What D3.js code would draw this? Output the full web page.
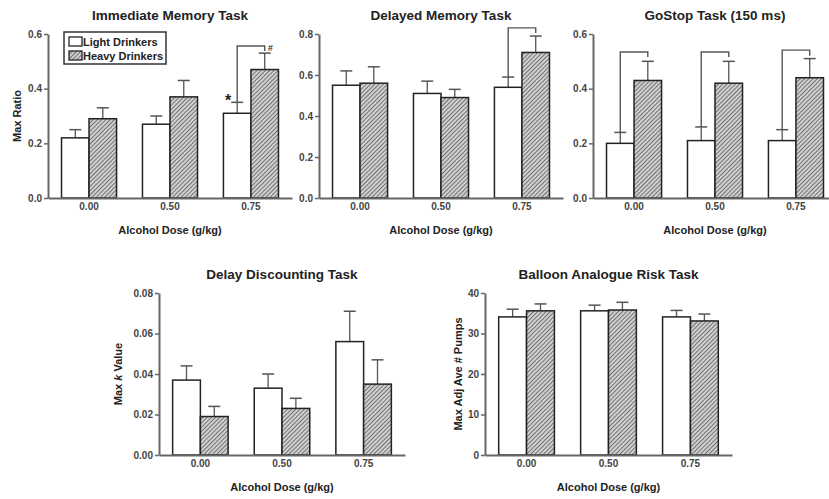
<!DOCTYPE html>
<html><head><meta charset="utf-8">
<script src="https://cdn.jsdelivr.net/npm/d3@7"></script>
<style>
body{margin:0;background:#fff}
text{font-family:"Liberation Sans",Arial,sans-serif;font-weight:bold}
</style>
</head><body><svg id="c" width="829" height="499"></svg>
<script>
// ---------- DATA ----------
const doses = ["0.00","0.50","0.75"];
const seriesNames = ["Light Drinkers","Heavy Drinkers"];

const immLight = [0.22,0.27,0.31], immLightErr = [0.03,0.03,0.04];
const immHeavy = [0.29,0.37,0.47], immHeavyErr = [0.04,0.06,0.06];
const immTicks = [0,0.2,0.4,0.6];
const immBrackets = [[2,0.556,0.538]];

const delLight = [0.55,0.51,0.54], delLightErr = [0.07,0.06,0.05];
const delHeavy = [0.56,0.49,0.71], delHeavyErr = [0.08,0.04,0.08];
const delTicks = [0,0.2,0.4,0.6,0.8];
const delBrackets = [[2,0.83,0.805]];

const goLight = [0.20,0.21,0.21], goLightErr = [0.04,0.05,0.04];
const goHeavy = [0.43,0.42,0.44], goHeavyErr = [0.07,0.08,0.07];
const goTicks = [0,0.2,0.4,0.6];
const goBrackets = [[0,0.534,0.516],[1,0.534,0.516],[2,0.541,0.52]];

const ddLight = [0.037,0.033,0.056], ddLightErr = [0.007,0.007,0.015];
const ddHeavy = [0.019,0.023,0.035], ddHeavyErr = [0.005,0.005,0.012];
const ddTicks = [0,0.02,0.04,0.06,0.08];

const bartLight = [34.1,35.6,34.1], bartLightErr = [1.9,1.4,1.6];
const bartHeavy = [35.6,35.8,33.1], bartHeavyErr = [1.7,1.9,1.7];
const bartTicks = [0,10,20,30,40];

// ---------- DRAW ----------
const svg = d3.select("#c");
const defs = svg.append("defs");
const pat = defs.append("pattern").attr("id","hatch").attr("patternUnits","userSpaceOnUse")
  .attr("width",3).attr("height",3).attr("patternTransform","rotate(45)");
pat.append("rect").attr("width",3).attr("height",3).attr("fill","#d0d0d0");
pat.append("line").attr("x1",0).attr("y1",0).attr("x2",0).attr("y2",3)
  .attr("stroke","#404040").attr("stroke-width",1.3);

const axisCol = "#666", barStroke = "#222", textCol = "#222", tickCol = "#444";

function panel(o){
  const g = svg.append("g");
  const x = d3.scaleBand().domain(doses).range([o.x0,o.x1]).paddingInner(0.32).paddingOuter(0.167);
  const xs = d3.scaleBand().domain([0,1]).range([0,x.bandwidth()]);
  const y = d3.scaleLinear().domain([0,o.ymax]).range([o.yb,o.yt]);

  const rows = [];
  doses.forEach((d,i)=>{
    rows.push({d,s:0,v:o.light[i],e:o.lightErr[i]});
    rows.push({d,s:1,v:o.heavy[i],e:o.heavyErr[i]});
  });
  rows.forEach(r=>{
    const cx = x(r.d)+xs(r.s)+xs.bandwidth()/2;
    g.append("line").attr("x1",cx).attr("x2",cx).attr("y1",y(r.v)).attr("y2",y(r.v+r.e))
      .attr("stroke","#555").attr("stroke-width",1.3);
    g.append("line").attr("x1",cx-6).attr("x2",cx+6).attr("y1",y(r.v+r.e)).attr("y2",y(r.v+r.e))
      .attr("stroke","#555").attr("stroke-width",1.5);
  });
  g.selectAll("rect.bar").data(rows).enter().append("rect").attr("class","bar")
    .attr("x",r=>x(r.d)+xs(r.s)).attr("width",xs.bandwidth())
    .attr("y",r=>y(r.v)).attr("height",r=>y(0)-y(r.v))
    .attr("fill",r=>r.s?"url(#hatch)":"#fff").attr("stroke",barStroke).attr("stroke-width",1.5);

  (o.brackets||[]).forEach(b=>{
    const d = doses[b[0]];
    const lx = x(d)+xs(0)+xs.bandwidth()/2, rx = x(d)+xs(1)+xs.bandwidth()/2;
    const ly = y(o.light[b[0]]+o.lightErr[b[0]]);
    g.append("path").attr("d",`M${lx},${ly}V${y(b[1])}H${rx}V${y(b[2])}`)
      .attr("fill","none").attr("stroke","#555").attr("stroke-width",1.4);
  });

  const ya = d3.axisLeft(y).tickValues(o.ticks).tickSize(4).tickSizeOuter(0).tickPadding(2).tickFormat(o.fmt);
  const yg = g.append("g").attr("transform",`translate(${o.x0},0)`).call(ya);
  const xa = d3.axisBottom(x).tickSize(0).tickSizeOuter(0).tickPadding(5);
  const xg = g.append("g").attr("transform",`translate(0,${o.yb})`).call(xa);
  [yg,xg].forEach(a=>{
    a.select(".domain").attr("stroke",axisCol).attr("stroke-width",2);
    a.selectAll(".tick line").attr("stroke",axisCol).attr("stroke-width",1.5);
    a.selectAll(".tick text").attr("fill",tickCol).style("font-size","10px").style("font-family","'Liberation Sans',Arial,sans-serif").style("font-weight","bold");
  });

  g.append("text").attr("x",(o.x0+o.x1)/2).attr("y",o.yt-14).attr("text-anchor","middle")
    .attr("fill",textCol).style("font-size","13.5px").text(o.title);
  g.append("text").attr("x",(o.x0+o.x1)/2).attr("y",o.yb+36).attr("text-anchor","middle")
    .attr("fill",textCol).style("font-size","11px").text("Alcohol Dose (g/kg)");
  if(o.ylabel){
    const t = g.append("text").attr("transform",`translate(${o.x0-o.ylOff},${(o.yt+o.yb)/2}) rotate(-90)`)
      .attr("text-anchor","middle").attr("dy","0.35em").attr("fill",textCol).style("font-size","11px");
    o.ylabel.forEach(p=>t.append("tspan").style("font-style",p[1]?"italic":"normal").text(p[0]));
  }
  return {g,x,xs,y};
}

const f1 = d3.format(".1f"), f2 = d3.format(".2f"), f0 = d3.format("d");

const p1 = panel({x0:48,x1:292,yt:34,yb:198,ymax:0.6,ticks:immTicks,fmt:f1,
  light:immLight,lightErr:immLightErr,heavy:immHeavy,heavyErr:immHeavyErr,brackets:immBrackets,
  title:"Immediate Memory Task",ylabel:[["Max Ratio",0]],ylOff:31});
panel({x0:319,x1:563,yt:34,yb:198,ymax:0.8,ticks:delTicks,fmt:f1,
  light:delLight,lightErr:delLightErr,heavy:delHeavy,heavyErr:delHeavyErr,brackets:delBrackets,
  title:"Delayed Memory Task"});
panel({x0:593,x1:837,yt:34,yb:198,ymax:0.6,ticks:goTicks,fmt:f1,
  light:goLight,lightErr:goLightErr,heavy:goHeavy,heavyErr:goHeavyErr,brackets:goBrackets,
  title:"GoStop Task (150 ms)"});
panel({x0:159,x1:405,yt:293,yb:455,ymax:0.08,ticks:ddTicks,fmt:f2,
  light:ddLight,lightErr:ddLightErr,heavy:ddHeavy,heavyErr:ddHeavyErr,
  title:"Delay Discounting Task",ylabel:[["Max ",0],["k",1],[" Value",0]],ylOff:41});
panel({x0:485,x1:732,yt:293,yb:455,ymax:40,ticks:bartTicks,fmt:f0,
  light:bartLight,lightErr:bartLightErr,heavy:bartHeavy,heavyErr:bartHeavyErr,
  title:"Balloon Analogue Risk Task",ylabel:[["Max Adj Ave # Pumps",0]],ylOff:27});

{
  const d = doses[2];
  const lx = p1.x(d)+p1.xs(0)+p1.xs.bandwidth()/2;
  const rx = p1.x(d)+p1.xs(1)+p1.xs.bandwidth()/2;
  p1.g.append("text").attr("x",lx-9).attr("y",p1.y(immLight[2]+immLightErr[2])+4)
    .attr("text-anchor","middle").attr("fill",textCol).style("font-size","16px").text("*");
  p1.g.append("text").attr("x",rx+3).attr("y",p1.y(immBrackets[0][1])+5)
    .attr("fill","#333").style("font-size","9px").style("font-style","italic").text("#");
}

{
  const lg = svg.append("g");
  lg.append("rect").attr("x",64).attr("y",32).attr("width",102).attr("height",32)
    .attr("fill","#fff").attr("stroke","#333").attr("stroke-width",1.5);
  seriesNames.forEach((n,i)=>{
    const yy = 37 + i*14;
    lg.append("rect").attr("x",69).attr("y",yy).attr("width",13).attr("height",9)
      .attr("fill",i?"url(#hatch)":"#fff").attr("stroke","#222").attr("stroke-width",1.3);
    lg.append("text").attr("x",83).attr("y",yy+9).attr("fill",textCol).style("font-size","11px").text(n);
  });
}
</script></body></html>
